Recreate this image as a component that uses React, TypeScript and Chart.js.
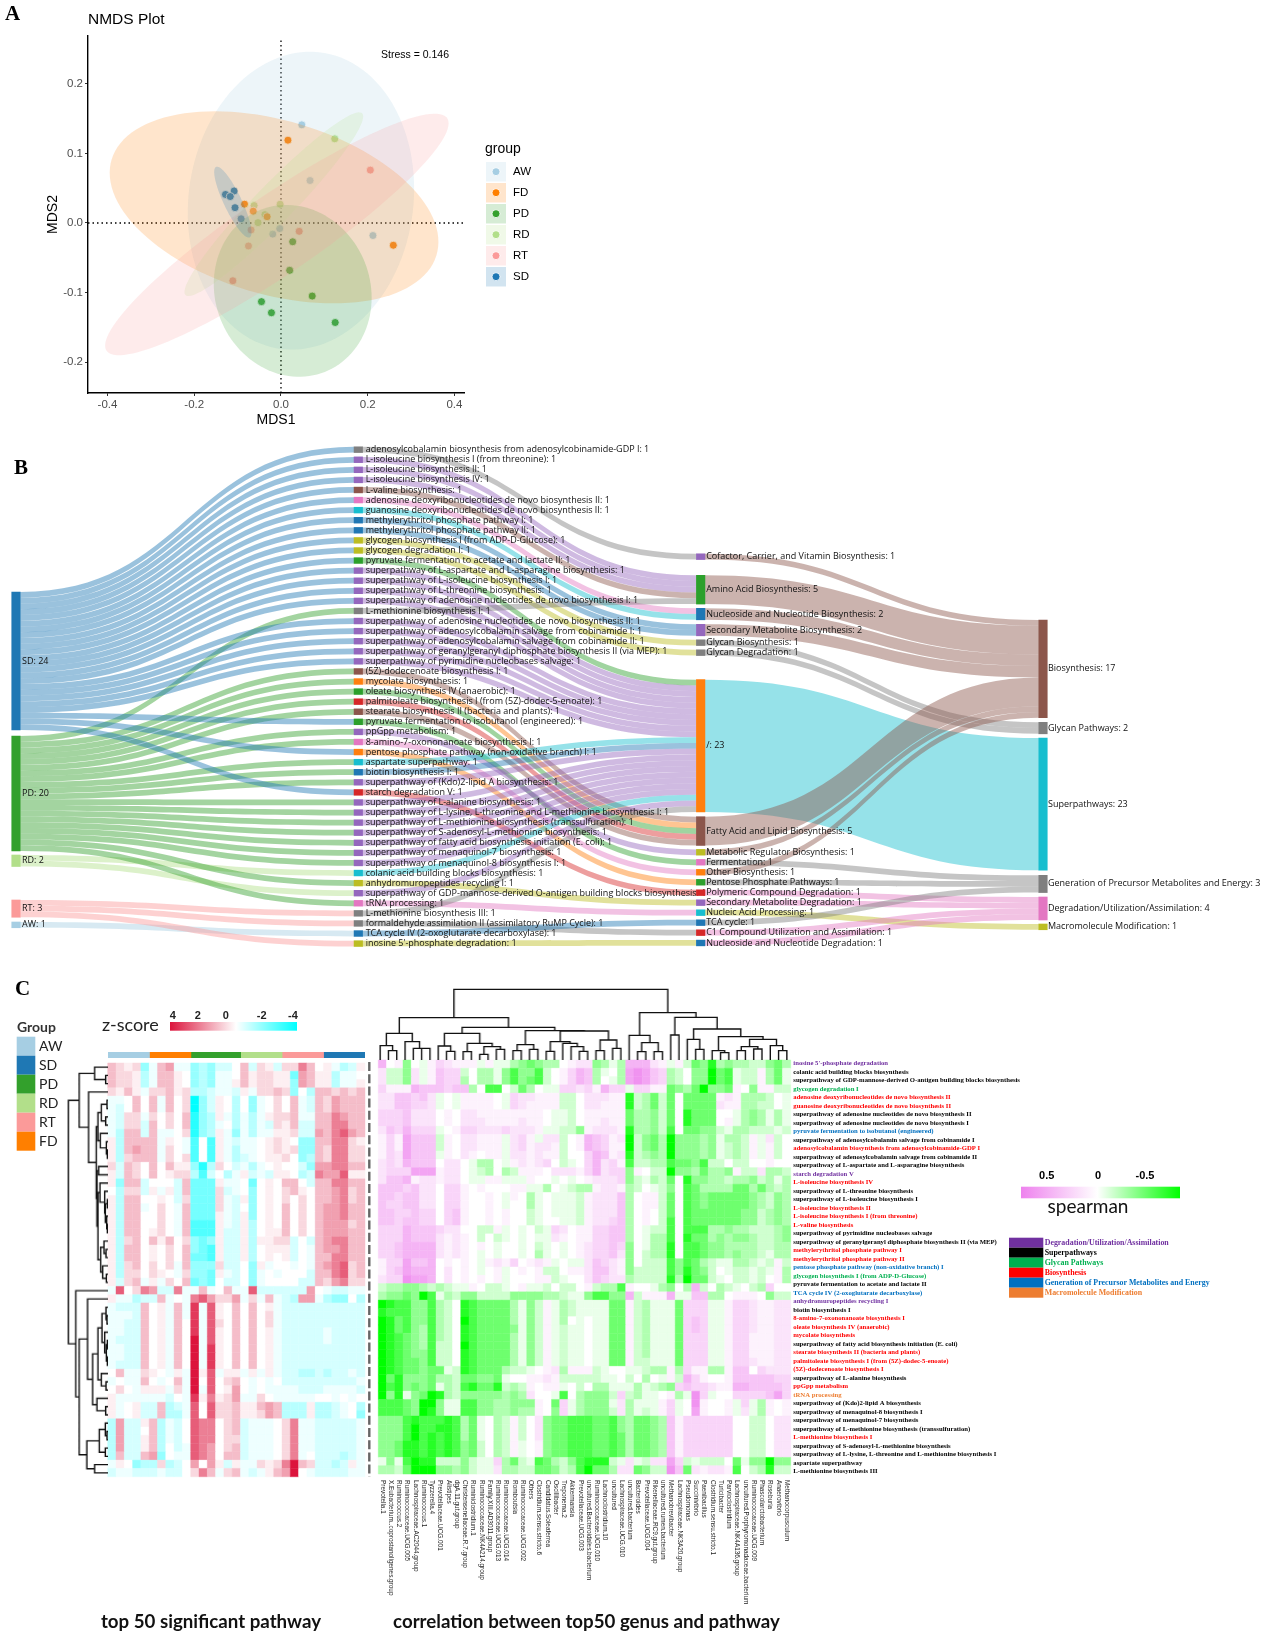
import React, { useEffect, useRef } from 'react';
import Chart from 'chart.js/auto';

// ---------- Panel A data ----------
const groupNames = ['AW', 'FD', 'PD', 'RD', 'RT', 'SD'];
const groupColors = ['#a6cee3', '#ff7f00', '#33a02c', '#b2df8a', '#fb9a99', '#1f78b4'];
const awPoints = [[0.048, 0.141], [0.067, 0.061], [0.212, -0.018], [-0.003, -0.008], [-0.019, -0.016]];
const fdPoints = [[0.016, 0.119], [0.259, -0.032], [-0.084, 0.027], [-0.064, 0.017], [-0.032, 0.009]];
const pdPoints = [[-0.045, -0.113], [-0.022, -0.129], [0.125, -0.143], [0.072, -0.105], [0.02, -0.068], [0.027, -0.027]];
const rdPoints = [[0.124, 0.121], [-0.062, 0.025], [-0.037, 0.012], [-0.053, 0.0005], [-0.002, 0.027]];
const rtPoints = [[0.206, 0.076], [0.042, -0.012], [-0.069, -0.01], [-0.075, -0.033], [-0.111, -0.083]];
const sdPoints = [[-0.108, 0.046], [-0.128, 0.041], [-0.117, 0.038], [-0.106, 0.022], [-0.092, 0.006]];
const allPoints = [awPoints, fdPoints, pdPoints, rdPoints, rtPoints, sdPoints];
// cx, cy, half width, half height, correlation
const ellipses = [
  [0.046, 0.032, 0.261, 0.214, 0.08],
  [-0.016, 0.0225, 0.379, 0.138, -0.36],
  [0.027, -0.0975, 0.182, 0.1235, -0.08],
  [-0.0165, 0.027, 0.206, 0.132, 0.955],
  [-0.0095, -0.0165, 0.396, 0.1735, 0.92],
  [-0.111, 0.03, 0.043, 0.051, -0.85],
];
const xTicksA = [-0.4, -0.2, 0, 0.2, 0.4];
const yTicksA = [-0.2, -0.1, 0, 0.1, 0.2];

// ---------- Panel B data ----------
const PAL: Record<string, string> = {
  blue: '#1f77b4', orange: '#ff7f0e', green: '#2ca02c', red: '#d62728', purple: '#9467bd',
  brown: '#8c564b', pink: '#e377c2', grey: '#7f7f7f', olive: '#bcbd22', cyan: '#17becf',
};
const sourceNames = ['SD', 'PD', 'RD', 'RT', 'AW'];
const sourceColors = ['#1f78b4', '#33a02c', '#b2df8a', '#fb9a99', '#a6cee3'];
const pathways = [
  'adenosylcobalamin biosynthesis from adenosylcobinamide-GDP I', 'L-isoleucine biosynthesis I (from threonine)',
  'L-isoleucine biosynthesis II', 'L-isoleucine biosynthesis IV', 'L-valine biosynthesis',
  'adenosine deoxyribonucleotides de novo biosynthesis II', 'guanosine deoxyribonucleotides de novo biosynthesis II',
  'methylerythritol phosphate pathway I', 'methylerythritol phosphate pathway II', 'glycogen biosynthesis I (from ADP-D-Glucose)',
  'glycogen degradation I', 'pyruvate fermentation to acetate and lactate II', 'superpathway of L-aspartate and L-asparagine biosynthesis',
  'superpathway of L-isoleucine biosynthesis I', 'superpathway of L-threonine biosynthesis', 'superpathway of adenosine nucleotides de novo biosynthesis I',
  'L-methionine biosynthesis I', 'superpathway of adenosine nucleotides de novo biosynthesis II', 'superpathway of adenosylcobalamin salvage from cobinamide I',
  'superpathway of adenosylcobalamin salvage from cobinamide II', 'superpathway of geranylgeranyl diphosphate biosynthesis II (via MEP)', 'superpathway of pyrimidine nucleobases salvage',
  '(5Z)-dodecenoate biosynthesis I', 'mycolate biosynthesis', 'oleate biosynthesis IV (anaerobic)',
  'palmitoleate biosynthesis I (from (5Z)-dodec-5-enoate)', 'stearate biosynthesis II (bacteria and plants)', 'pyruvate fermentation to isobutanol (engineered)',
  'ppGpp metabolism', '8-amino-7-oxononanoate biosynthesis I', 'pentose phosphate pathway (non-oxidative branch) I',
  'aspartate superpathway', 'biotin biosynthesis I', 'superpathway of (Kdo)2-lipid A biosynthesis', 'starch degradation V',
  'superpathway of L-alanine biosynthesis', 'superpathway of L-lysine, L-threonine and L-methionine biosynthesis I', 'superpathway of L-methionine biosynthesis (transsulfuration)',
  'superpathway of S-adenosyl-L-methionine biosynthesis', 'superpathway of fatty acid biosynthesis initiation (E. coli)', 'superpathway of menaquinol-7 biosynthesis',
  'superpathway of menaquinol-8 biosynthesis I', 'colanic acid building blocks biosynthesis', 'anhydromuropeptides recycling I',
  'superpathway of GDP-mannose-derived O-antigen building blocks biosynthesis', 'tRNA processing', 'L-methionine biosynthesis III',
  'formaldehyde assimilation II (assimilatory RuMP Cycle)', 'TCA cycle IV (2-oxoglutarate decarboxylase)', 'inosine 5\'-phosphate degradation',
];
const pathwayColors = ['grey', 'purple', 'purple', 'purple', 'brown', 'pink', 'cyan', 'blue', 'blue', 'olive', 'olive', 'green', 'purple', 'purple', 'purple', 'purple', 'grey', 'purple', 'purple', 'purple', 'purple', 'purple', 'brown', 'orange', 'green', 'red', 'brown', 'green', 'purple', 'pink', 'orange', 'cyan', 'blue', 'purple', 'red', 'purple', 'purple', 'purple', 'purple', 'purple', 'purple', 'purple', 'cyan', 'olive', 'purple', 'pink', 'grey', 'grey', 'blue', 'olive'];
const pathwaySource = [0, 0, 0, 0, 0, 0, 0, 0, 0, 0, 0, 0, 0, 0, 0, 0, 1, 0, 0, 0, 0, 0, 1, 1, 1, 1, 1, 0, 1, 1, 0, 1, 1, 1, 0, 1, 1, 1, 1, 1, 1, 1, 2, 1, 2, 1, 3, 3, 4, 3];
const classes = ['Cofactor, Carrier, and Vitamin Biosynthesis', 'Amino Acid Biosynthesis', 'Nucleoside and Nucleotide Biosynthesis', 'Secondary Metabolite Biosynthesis', 'Glycan Biosynthesis', 'Glycan Degradation', '/', 'Fatty Acid and Lipid Biosynthesis', 'Metabolic Regulator Biosynthesis', 'Fermentation', 'Other Biosynthesis', 'Pentose Phosphate Pathways', 'Polymeric Compound Degradation', 'Secondary Metabolite Degradation', 'Nucleic Acid Processing', 'TCA cycle', 'C1 Compound Utilization and Assimilation', 'Nucleoside and Nucleotide Degradation'];
const classColors = ['purple', 'green', 'blue', 'purple', 'grey', 'grey', 'orange', 'brown', 'olive', 'pink', 'orange', 'green', 'red', 'purple', 'cyan', 'blue', 'red', 'blue'];
const pathwayClass = [0, 1, 1, 1, 1, 2, 2, 3, 3, 4, 5, 6, 6, 6, 6, 6, 1, 6, 6, 6, 6, 6, 7, 7, 7, 7, 7, 9, 8, 10, 11, 6, 6, 6, 12, 6, 6, 6, 6, 6, 6, 6, 6, 13, 6, 14, 6, 16, 15, 17];
const superClasses = ['Biosynthesis', 'Glycan Pathways', 'Superpathways', 'Generation of Precursor Metabolites and Energy', 'Degradation/Utilization/Assimilation', 'Macromolecule Modification'];
const superColors = ['brown', 'grey', 'cyan', 'grey', 'pink', 'olive'];
const classSuper = [0, 0, 0, 0, 1, 1, 2, 0, 0, 3, 0, 3, 4, 4, 5, 3, 4, 4];
// layout of the columns (page pixels), kept apart from the values
const sourceTops = [592, 736, 855, 900, 922];
const classTops = [553.8, 575.3, 608.3, 624.3, 639.8, 649.8, 679.7, 816.7, 849.4, 859.4, 869.4, 879.4, 889.8, 899.8, 909.8, 919.8, 929.8, 940.1];
const superTops = [620, 722.3, 738, 875.3, 897, 924];
const labelGap = [6, 7.3, 5.5, 5];
const UNIT = 5.75;
const pathTop = (i: number) => 446.8 + i * 10.08;

const cnt = (arr: number[], v: number) => arr.filter((a) => a === v).length;
type Node = { lvl: number; top: number; h: number; color: string; label: string };
const nodes: Node[] = [];
const links: { l: number; y0: number; y1: number; h: number; color: string }[] = [];
sourceNames.forEach((n, i) => { const c = cnt(pathwaySource, i); nodes.push({ lvl: 0, top: sourceTops[i], h: c * UNIT, color: sourceColors[i], label: `${n}: ${c}` }); });
pathways.forEach((n, i) => nodes.push({ lvl: 1, top: pathTop(i), h: UNIT, color: PAL[pathwayColors[i]], label: `${n}: 1` }));
classes.forEach((n, i) => { const c = cnt(pathwayClass, i); nodes.push({ lvl: 2, top: classTops[i], h: c * UNIT, color: PAL[classColors[i]], label: `${n}: ${c}` }); });
superClasses.forEach((n, i) => { const c = classSuper.reduce((s, g, k) => s + (g === i ? cnt(pathwayClass, k) : 0), 0); nodes.push({ lvl: 3, top: superTops[i], h: c * UNIT, color: PAL[superColors[i]], label: `${n}: ${c}` }); });
{
  const so = sourceTops.map(() => 0), co = classTops.map(() => 0), go = superTops.map(() => 0);
  pathways.forEach((_, i) => {
    const s = pathwaySource[i];
    links.push({ l: 0, y0: sourceTops[s] + so[s] * UNIT, y1: pathTop(i), h: UNIT, color: sourceColors[s] });
    so[s]++;
  });
  pathways.forEach((_, i) => {
    const c = pathwayClass[i];
    links.push({ l: 1, y0: pathTop(i), y1: classTops[c] + co[c] * UNIT, h: UNIT, color: PAL[pathwayColors[i]] });
    co[c]++;
  });
  classes.forEach((_, c) => {
    const g = classSuper[c], n = co[c];
    links.push({ l: 2, y0: classTops[c], y1: superTops[g] + go[g] * UNIT, h: n * UNIT, color: PAL[superColors[g]] });
    go[g] += n;
  });
}

// ---------- Panel C data ----------
// z-score cells: '.'=0, 1..8 = +0.5..+4, a..h = -0.5..-4
const zRows = [
  '3212d a34aa dcdbb. 3b21b 2253. 1acb1', '3221c a331. dcdaa. 31221 1e431 1caa.', '3221c a331. dcdaa1 31221 1d431 1caa1',
  '2131a 22312 ccbaab 1a223 2d.c3 32323', 'aa.3. 3a3.2 hdb1.c .da.2 .3ab3 24333', 'ab.3. 3a3.2 hdb1.c .da.2 .3ab3 24333',
  'ab22a 2.2.3 gdc1ac aca12 23aa3 35433', 'ab22b 3.2.3 gdca.c acab2 13bb3 35533', 'ac33b 3aa.2 gdc1ad acaa1 12bb4 35643',
  '1c333 3a1.a f.f1ab aa.12 1.dd3 35521', '1c343 3a2.a f.f1ac aa.12 12dd3 25522', '1c233 3a2.2 f.f1ac ba.11 2.dc3 25522',
  '2b32. 3.311 dgc2.b aca.1 ..bd4 45533', '1b32. 3.122 cfb.ca 1bab1 1.cb5 44611', '1d33b ...b3 eee1aa .e.1. 33.b3 35533',
  '.c22b 1a1b3 eee2ba .d.1. 231.3 34523', '1c33. .1.b2 eee2ab 1d.1. 2.2.3 34523', '1c33a .2.a3 eee2ab .d.1. 3.2.3 44533',
  '1c33. .2.a3 eee1ab 1d.1. 3.2.3 44533', '1c33. .2.a3 fff1ab 1c.1. 3.2.3 44423', '1c33. 12.a3 fff1bb 1c.11 3.2.3 44433',
  '1c23. 313.2 ded1bb 1c112 2b.b3 45533', '1c33. 1.2.3 def1bb 1c.11 1b.a3 44533', '1c33. 1.2.3 eef1bb 1c.1. 1b.a3 35533',
  '1c23. 2.2a3 ddd2bb .d1a. .a.a3 45623', '1c22. 21.a2 dde1ab .da.a ...b3 35623', '1b23a 1a2.3 ede.bb .da.. ..bb3 24522',
  'a6.25 4bb5a a3a.3a a6bbb bbb4. abbaa', '1aacb b3a.a 564224 a2a3a bc44a cdd.c', 'abbb3 .1a3a 7a61.3 .3.1a bbbbb bbbbb',
  'aaab3 .1a3a 7a61.3 .3.2a bbbbb bbbbb', 'aabb3 .1a3. 7a62.3 .3.2a bbbbb bbbbb', 'aabb3 .1a3. 7a61.3 .3.1a bbbbb abbbb',
  'abbb3 .1a3. 8a61.3 .3.1a bbbbb abbbb', 'aabb3 .1a3. 8a71.3 .3.1a bbbbb bbbbb', 'aabb3 .1a3. 8a71.3 .3.1a bbbbb bbbbb',
  'abbb3 .1a3. 8a71.3 .3.1a bbbbb bbbbb', '.3aa2 1.a1a 816a11 a1a1a bbccb cbbab', 'a.aa3 .a.3a 8.6.23 .a.a. bbbbb bbbba',
  '.2.a1 11a2a 8a6.14 .a.aa aabbb aaaab', '1aaaa aab.a 715124 aa2.a aaaa. .a.a.', '1a.1b b3cba 6.6223 11343 ccc1c cba.c',
  '1a.1b b3cca 6.6223 11243 ccc1c cba.d', 'c4bb1 3cab. 655.23 baaa. 25aab bbbba', 'c4bb. 3cab. 655.23 baaa. 25aab bbbba',
  'c4bb1 3cab. 655.22 baaa. 25aab bbbba', 'c4bb1 3c.ba 654.23 baaa. 25aab bbbba', 'c3bb3 4d.aa 654.33 baaa. 25a.b bbcba',
  'a1.dc c2cb. 4.41b1 aa212 5832b bcb1a', 'baabb babb. 253a23 aba13 48.ab bbbaa',
];
// spearman cells: '.'=0, 1..8 = +0.0625..+0.5, a..h = -0.0625..-0.5
const corrRows = [
  '5.1d. a1321 11a1a acded cc.12 2dcac 55521 a1bed gcdcc bbdec', '2bbd2 a1433 b.cca dfddf b.135 4ca.c 67643 cb.dd hefab b1cea',
  '2bbd2 a1433 c.cca dfdef b.135 4c.ac 67643 cb.dd hefab b1cea', '31115 44434 4c.ff .bec. aa332 31533 a3311 edceh dde1. d11bb',
  '22443 42a.a 1111. a3221 11bb. 22211 gbceb e.eee e121c ccb.a', '22443 32a.a 1111. a3211 11bb. 22111 gbceb e.eee e211c cbb.a',
  '33342 22.1. 22111 11111 .aab. 11111 eccdb e.gee e..ac dcaca', '33342 22.1. 22211 11211 .aab. 11211 eccdb e.gee e.1ac dcaca',
  '24353 33a.1 33222 32221 aabbd 12221 gccdb f.eed dbacc bbbab', '13164 44b1. 22111 a231a 22b.1 54312 hbdec hdddc daccb 1a2b.',
  '13164 44b1. 22111 a2312 21b.1 54311 hbdec hdddc dabcb 1a1b.', '13264 44a1. 21.11 a2212 11b.. 35412 gbcdc hdddc dabcb 1a1b.',
  '23254 44.22 .acc. a1212 3.ba. 35231 fbbcc feedf bb.bb ..1..', '23336 66122 .abc. cb111 .2221 35233 d1.bb hddce ccd1b b2ccb',
  '24451 22122 .aa11 aaa1. .a.a. 12223 dbacb e.gdd ccbcc dbcac', '44434 22.33 1.1.. .11aa c.abc c1221 cb.ab d.fec cccee cecbc',
  '44344 22.33 1..1. a1.ca .aaab 12224 c.11b e.fed eeeee dcbdc', '43344 22.33 1..1. a..ca .aaab 12224 c.11b e.fed eeeee dcbdc',
  '44334 33.34 1..1. 1..ba .aaab 12224 c.1.b e.fee eeeed dbcdc', '44344 33.34 1..1. 1..ba ..aab 12234 c.1.b f.fee eeeed dbcdc',
  '33354 44322 ..bb1 a.a.b a32.1 13344 c.abb f.fff ccdcc bbbcd', '33354 44212 1.b.b a.a.a a21.1 13344 c.acc f.gee cdcdd cbbcd',
  '33455 55212 1.1.a ..a.b a.a.1 23343 d.acc g.ffe ddccc cbbcc', '33455 55212 1.a.a ..a.c a.a.1 23342 d.bcc g.ffe ddcdc cbacc',
  '13364 45.1. 1.a12 13.12 1a.aa 24321 d.bbb fdfec baacc bab1b', '13465 55.2. 1.a.1 a.1.1 bb.11 24421 dbbbb fdged b.abb aba1c',
  '23376 65.2. 1.1.1 a...1 1ba.. 24322 cbbbb gchee ba.bb ab.1c', 'bccdd cbcba a1.bb a.1aa b.bb. 1bccf 1..ac d.c5b .cba. bc3..',
  'cdded hfacb ddbbb bdddd ccbaa dffdd 5b111 5aa44 cc.11 1.dbb', 'hgffd dfcb. gfeee ecadb 1acba aaaee 1bcaa ae333 aa133 21122',
  'gfffd dfcb. gfeee ecadb 1acba aaaee 1bcaa ae333 aa133 21122', 'hgefd dfcb. hfeee ecadb 1ac.a .aaee 1bcaa ae343 aa133 21122',
  'hgefd cfcb. gfeee edadb 1abaa .aaee 1bcaa ae343 aa133 21122', 'hgfed cfcb. gfeee ecadb 1abaa .aaee 1bcaa ae333 aa133 11122',
  'hgfed cfbb. hfeee ecadb 1abaa .aaee 1bcaa ae333 aa133 11122', 'hgfed dfbb. gfeee ecadb 1abaa .aaee 1bcaa ae333 aa133 11122',
  'hgfee dfbb. gfeee ecadb 1abaa .aaee 1bbaa ae333 aa133 21122', 'hgfee deeab gfeee cbba. 12c11 1ba.. aabcc 1c311 cc144 .3222',
  'hegdd deccb eedde a..11 21bbb bbaa. b.c.a 1b531 ..144 44433', 'hfgde deacb fgeeg bcb1. 11a.b .ccaa acabc d3433 21155 44443',
  'hdgad ehgcb ddddd cdc2. .af.c dddb3 bcaa. 1ca73 a..33 33463', 'fffed hhdaa ffddc cddd1 .e3ac ddda2 caaa1 3a.71 ..1a3 ac1.1',
  'fffed hgdaa ffddc cdcc1 .d3ac dddb2 caba1 3a.61 ..1a2 ac1.1', 'dddfg fffgf cea.c b1b.2 deeff feefd ceedc 41333 333.. bb.22',
  'dddfh ffggf cea.c b1b.2 deeff feefd ceedc 41333 333.. bb.22', 'dddfh fgfgf cea.c b1b.2 deeff feefe ceedc 41333 333.. bb.22',
  'ddegg fgfgf deb.c b1a.1 deeff feefe ceedc 41333 333.. bb.22', 'ddegg fgfgf deb.c b1a.1 deeff feefe ceedc 41333 333.. bb.22',
  'adafh ggbbb dbaa3 cebaf ecbdf gggba 2ab22 63bab bb.ea ddhdd', 'ccbeh hhddc dbaa2 ccbbe edbcf heec2 2edbb 74e21 221f. bcgbb',
];
const genera = ['Prevotella.1', 'X.Eubacterium..coprostanoligenes.group', 'Ruminococcus.2', 'Ruminococcaceae.UCG.005', 'Lachnospiraceae.AC2044.group', 'Ruminococcus.1', 'Tyzzerella.4', 'Prevotellaceae.UCG.001', 'Alistipes', 'dgA.11.gut.group', 'Christensenellaceae.R.7.group', 'Ruminiclostridium.1', 'Ruminococcaceae.NK4A214.group', 'Family.XIII.AD3011.group', 'Ruminococcaceae.UCG.013', 'Ruminococcaceae.UCG.014', 'Romboutsia', 'Ruminococcaceae.UCG.002', 'Others', 'Clostridium.sensu.stricto.6', 'Candidatus.Soleaferrea', 'Oscillibacter', 'Treponema.2', 'Akkermansia', 'Prevotellaceae.UCG.003', 'uncultured.Bacteroidales.bacterium', 'Ruminococcaceae.UCG.010', 'Lachnoclostridium.10', 'uncultured', 'Lachnospiraceae.UCG.010', 'uncultured.bacterium', 'Bacteroides', 'Prevotellaceae.UCG.004', 'Rikenellaceae.RC9.gut.group', 'uncultured.rumen.bacterium', 'Methanobrevibacter', 'Lachnospiraceae.NK3A20.group', 'Pseudomonas', 'Succinivibrio', 'Paenibacillus', 'Clostridium.sensu.stricto.1', 'Turicibacter', 'Parvioclostridium', 'Lachnospiraceae.NK4A136.group', 'uncultured.Porphyromonadaceae.bacterium', 'Ruminococcaceae.UCG.009', 'Phascolarctobacterium', 'Roseburia', 'Anaerovibrio', 'Methanocorpusculum'];
const catNames = ['Degradation/Utilization/Assimilation', 'Superpathways', 'Glycan Pathways', 'Biosynthesis', 'Generation of Precursor Metabolites and Energy', 'Macromolecule Modification'];
const catColors = ['#7030a0', '#000000', '#00b050', '#ff0000', '#0070c0', '#ed7d31'];
const rowLabels: [string, number][] = [
  ["inosine 5'-phosphate degradation", 0], ['colanic acid building blocks biosynthesis', 1], ['superpathway of GDP-mannose-derived O-antigen building blocks biosynthesis', 1],
  ['glycogen degradation I', 2], ['adenosine deoxyribonucleotides de novo biosynthesis II', 3], ['guanosine deoxyribonucleotides de novo biosynthesis II', 3],
  ['superpathway of adenosine nucleotides de novo biosynthesis II', 1], ['superpathway of adenosine nucleotides de novo biosynthesis I', 1], ['pyruvate fermentation to isobutanol (engineered)', 4],
  ['superpathway of adenosylcobalamin salvage from cobinamide I', 1], ['adenosylcobalamin biosynthesis from adenosylcobinamide-GDP I', 3], ['superpathway of adenosylcobalamin salvage from cobinamide II', 1],
  ['superpathway of L-aspartate and L-asparagine biosynthesis', 1], ['starch degradation V', 0], ['L-isoleucine biosynthesis IV', 3], ['superpathway of L-threonine biosynthesis', 1],
  ['superpathway of L-isoleucine biosynthesis I', 1], ['L-isoleucine biosynthesis II', 3], ['L-isoleucine biosynthesis I (from threonine)', 3], ['L-valine biosynthesis', 3],
  ['superpathway of pyrimidine nucleobases salvage', 1], ['superpathway of geranylgeranyl diphosphate biosynthesis II (via MEP)', 1], ['methylerythritol phosphate pathway I', 3],
  ['methylerythritol phosphate pathway II', 3], ['pentose phosphate pathway (non-oxidative branch) I', 4], ['glycogen biosynthesis I (from ADP-D-Glucose)', 2],
  ['pyruvate fermentation to acetate and lactate II', 1], ['TCA cycle IV (2-oxoglutarate decarboxylase)', 4], ['anhydromuropeptides recycling I', 0], ['biotin biosynthesis I', 1],
  ['8-amino-7-oxononanoate biosynthesis I', 3], ['oleate biosynthesis IV (anaerobic)', 3], ['mycolate biosynthesis', 3], ['superpathway of fatty acid biosynthesis initiation (E. coli)', 1],
  ['stearate biosynthesis II (bacteria and plants)', 3], ['palmitoleate biosynthesis I (from (5Z)-dodec-5-enoate)', 3], ['(5Z)-dodecenoate biosynthesis I', 3], ['superpathway of L-alanine biosynthesis', 1],
  ['ppGpp metabolism', 3], ['tRNA processing', 5], ['superpathway of (Kdo)2-lipid A biosynthesis', 1], ['superpathway of menaquinol-8 biosynthesis I', 1], ['superpathway of menaquinol-7 biosynthesis', 1],
  ['superpathway of L-methionine biosynthesis (transsulfuration)', 1], ['L-methionine biosynthesis I', 3], ['superpathway of S-adenosyl-L-methionine biosynthesis', 1],
  ['superpathway of L-lysine, L-threonine and L-methionine biosynthesis I', 1], ['aspartate superpathway', 1], ['L-methionine biosynthesis III', 1],
];
const annotGroups = ['AW', 'FD', 'PD', 'RD', 'RT', 'SD'];
const annotCounts = [5, 5, 6, 5, 5, 5];
const legendOrder = ['AW', 'SD', 'PD', 'RD', 'RT', 'FD'];
// dendrograms: [height, child, child], 0 = one leaf
type Tree = 0 | [number, Tree, Tree];
const rowTree: Tree = [118,
  [86, [40, 0, [7, 0, 0]],
    [58, 0, [35,
      [30, [20, [3, 0, 0], [7, 0, 0]], [23, 0, [5, 0, [2, 0, 0]]]],
      [33, [28, 0, 0], [30,
        [24, 0, [10, 0, [8, [2, 0, 0], [4, 0, [2, 0, 0]]]]],
        [22, [12, 0, [6, 0, 0]], [16, 0, [5, 0, 0]]]]]]]],
  [96, 0, [86,
    [61, 0, [46,
      [30, [18, [6, 0, [3, 0, 0]], [10, 0, [5, [2, 0, 0], [2, 0, 0]]]], [20, 0, [6, 0, 0]]],
      [33, 0, [7, 0, 0]]]],
    [63, [26, [8, 0, [3, 0, 0]], [8, 0, 0]], [40, 0, 0]]]]];
const colTree: Tree = [212,
  [127,
    [80, [43, 0, [28, 0, 0]], [55, 0, [35, 0, [35, 0, 0]]]],
    [98,
      [80, [42, 0, [26, 0, 0]], [50, [25, 0, 0], [40, [17, 0, 0], [32, 0, 0]]]],
      [88, [46, [28, 0, 0], [32, 0, 0]],
        [87, [55, [26, 0, 0], [50, 0, [40, 0, [26, 0, 0]]]], [60, [28, 0, 0], [35, 0, 0]]]]]],
  [142,
    [74, 0, [52, [25, 0, 0], [25, 0, 0]]],
    [128, [75, 0, 0],
      [93, [62, 0, [32, 0, 0]],
        [70, [28, 0, [22, 0, 0]],
          [62, [40, [28, 0, 0], [33, 0, 0]], [43, 0, [28, 0, 0]]]]]]]];

// ---------- helpers ----------
const cellVal = (c: string) => {
  if (c >= '1' && c <= '8') return +c;
  if (c >= 'a' && c <= 'h') return -(c.charCodeAt(0) - 96);
  return 0;
};
const mix = (a: number[], t: number) => `rgb(${a.map((v) => Math.round(255 + (v - 255) * t)).join(',')})`;
const zColor = (v: number) => (v >= 0 ? mix([220, 20, 60], Math.pow(v / 8, 1.3)) : mix([0, 255, 255], Math.pow(-v / 8, 1.3)));
const corrColor = (v: number) => (v >= 0 ? mix([238, 130, 238], Math.pow(v / 8, 1.1)) : mix([0, 255, 0], Math.pow(-v / 8, 1.2)));
const cells = (rows: string[], n: number) => rows.flatMap((r, y) => {
  const s = r.replace(/ /g, '').padEnd(n, '.');
  return Array.from(s).slice(0, n).map((c, x) => ({ x, y, v: cellVal(c) }));
});
const treeSegs = (t: Tree, swap: boolean) => {
  const out: { x: number; y: number }[] = [];
  let leaf = 0;
  const add = (a: number, b: number) => out.push(swap ? { x: b, y: a } : { x: a, y: b });
  const walk = (n: Tree): { p: number; h: number } => {
    if (n === 0) { leaf++; return { p: leaf - 0.5, h: 0 }; }
    const l = walk(n[1]), r = walk(n[2]);
    add(l.p, l.h); add(l.p, n[0]); add(r.p, n[0]); add(r.p, r.h);
    out.push({ x: NaN, y: NaN });
    return { p: (l.p + r.p) / 2, h: n[0] };
  };
  walk(t);
  return out;
};
const txt = (ctx: CanvasRenderingContext2D, s: string, x: number, y: number, font: string, color = '#000', align: CanvasTextAlign = 'left') => {
  ctx.save(); ctx.font = font; ctx.fillStyle = color; ctx.textAlign = align; ctx.textBaseline = 'middle'; ctx.fillText(s, x, y); ctx.restore();
};
const rgba = (hex: string, a: number) => `rgba(${parseInt(hex.slice(1, 3), 16)},${parseInt(hex.slice(3, 5), 16)},${parseInt(hex.slice(5, 7), 16)},${a})`;
const SANS = '"Liberation Sans"';
const SERIF = '"Liberation Serif"';
const LATO = 'Lato';
const SEGOE = '"Open Sans"';
const base: any = { responsive: false, animation: false, devicePixelRatio: 1, events: [], plugins: { legend: { display: false }, tooltip: { enabled: false } } };

function Cv({ left, top, w, h, make }: { left: number; top: number; w: number; h: number; make: (c: HTMLCanvasElement) => any }) {
  const ref = useRef<HTMLCanvasElement>(null);
  useEffect(() => {
    const ch = new Chart(ref.current!, make(ref.current!));
    return () => ch.destroy();
  }, []);
  return <canvas ref={ref} width={w} height={h} style={{ position: 'absolute', left, top, width: w, height: h }} />;
}

// ---------- Panel A ----------
const nmdsConfig = () => ({
  type: 'scatter',
  data: {
    datasets: [
      ...allPoints.map((pts, i) => ({
        label: groupNames[i], data: pts.map(([x, y]) => ({ x, y })),
        pointRadius: 4, pointBackgroundColor: groupColors[i], pointBorderColor: '#fff', pointBorderWidth: 0.8,
      })),
      { data: [{ x: -0.445, y: 0 }, { x: 0.422, y: 0 }], showLine: true, pointRadius: 0, borderColor: '#000', borderWidth: 1.3, borderDash: [1.5, 3] },
      { data: [{ x: 0, y: -0.2443 }, { x: 0, y: 0.265 }], showLine: true, pointRadius: 0, borderColor: '#000', borderWidth: 1.3, borderDash: [1.5, 3] },
    ],
  },
  options: {
    ...base,
    layout: { padding: { top: 36, right: 176, left: 0, bottom: 11.5 } },
    scales: {
      x: {
        type: 'linear', min: -0.445, max: 0.422,
        afterBuildTicks: (s: any) => { s.ticks = xTicksA.map((value) => ({ value })); },
        afterFit: (s: any) => { s.height = 35.5; },
        ticks: { color: '#4d4d4d', font: { family: SANS, size: 11.5 }, padding: 2, maxRotation: 0, callback: (v: number) => v.toFixed(1) },
        grid: { drawOnChartArea: false, drawTicks: true, tickLength: 3, tickColor: '#333' },
        border: { color: '#000', width: 1.4 },
        title: { display: true, text: 'MDS1', color: '#000', font: { family: SANS, size: 14 }, padding: { top: 0, bottom: 0 } },
      },
      y: {
        type: 'linear', min: -0.2443, max: 0.2687,
        afterBuildTicks: (s: any) => { s.ticks = yTicksA.map((value) => ({ value })); },
        afterFit: (s: any) => { s.width = 88; },
        ticks: { color: '#4d4d4d', font: { family: SANS, size: 11.5 }, padding: 2, callback: (v: number) => v.toFixed(1) },
        grid: { drawOnChartArea: false, drawTicks: true, tickLength: 3, tickColor: '#333' },
        border: { color: '#000', width: 1.4 },
        title: { display: true, text: 'MDS2', color: '#000', font: { family: SANS, size: 14 }, padding: { top: 45, bottom: 0 } },
      },
    },
  },
  plugins: [{
    id: 'ellipses',
    afterDatasetsDraw(chart: any) {
      const { ctx, scales: { x, y } } = chart;
      ellipses.forEach(([cx, cy, rx, ry, rho], i) => {
        const phi = Math.acos(rho);
        ctx.beginPath();
        for (let k = 0; k <= 120; k++) {
          const t = (k / 120) * Math.PI * 2;
          const px = x.getPixelForValue(cx + rx * Math.cos(t));
          const py = y.getPixelForValue(cy + ry * Math.cos(t - phi));
          if (k) ctx.lineTo(px, py); else ctx.moveTo(px, py);
        }
        ctx.closePath();
        ctx.fillStyle = rgba(groupColors[i], 0.2);
        ctx.fill();
      });
      txt(ctx, 'A', 5, 15, `bold 21px ${SERIF}`);
      txt(ctx, 'NMDS Plot', 88, 20, `15.5px ${SANS}`);
      txt(ctx, 'Stress = 0.146', 415, 55, `10.5px ${SANS}`, '#000', 'center');
      txt(ctx, 'group', 485, 149, `14px ${SANS}`);
      groupNames.forEach((g, i) => {
        const ky = 162 + i * 21;
        ctx.fillStyle = rgba(groupColors[i], 0.2);
        ctx.fillRect(486, ky, 20, 19.5);
        ctx.beginPath(); ctx.arc(496, ky + 9.7, 4, 0, Math.PI * 2);
        ctx.fillStyle = groupColors[i]; ctx.fill();
        ctx.strokeStyle = '#fff'; ctx.lineWidth = 0.8; ctx.stroke();
        txt(ctx, g, 513, ky + 10, `11.5px ${SANS}`);
      });
    },
  }],
});

// ---------- Panel B ----------
const sankeyConfig = () => ({
  type: 'bar',
  data: {
    datasets: [{
      data: nodes.map((n) => ({ x: n.lvl, y: [n.top, n.top + n.h] })),
      backgroundColor: nodes.map((n) => n.color),
      barThickness: 8.5,
      clip: false,
    }],
  },
  options: {
    ...base,
    layout: { padding: { left: 16, right: 220, top: 0, bottom: 0 } },
    scales: {
      x: { type: 'linear', min: 0, max: 3, display: false, offset: false },
      y: { type: 'linear', min: 440, max: 960, reverse: true, display: false },
    },
  },
  plugins: [{
    id: 'flows',
    beforeDatasetsDraw(chart: any) {
      const { ctx, scales: { x, y } } = chart;
      links.forEach((k) => {
        const x0 = x.getPixelForValue(k.l) + 4.25, x1 = x.getPixelForValue(k.l + 1) - 4.25, xm = (x0 + x1) / 2;
        const a = y.getPixelForValue(k.y0), b = y.getPixelForValue(k.y1), d = k.h;
        ctx.beginPath();
        ctx.moveTo(x0, a);
        ctx.bezierCurveTo(xm, a, xm, b, x1, b);
        ctx.lineTo(x1, b + d);
        ctx.bezierCurveTo(xm, b + d, xm, a + d, x0, a + d);
        ctx.closePath();
        ctx.fillStyle = rgba(k.color, 0.45);
        ctx.fill();
      });
      nodes.forEach((n) => {
        txt(ctx, n.label, x.getPixelForValue(n.lvl) + labelGap[n.lvl], y.getPixelForValue(n.top + n.h / 2), `9px ${SEGOE}`, '#111');
      });
      txt(ctx, 'B', 14, 29, `bold 21px ${SERIF}`);
    },
  }],
});

// ---------- Panel C ----------
const heatScales = (n: number) => ({
  x: { type: 'linear', min: -0.5, max: n - 0.5, display: false },
  y: { type: 'linear', min: -0.5, max: 49.5, reverse: true, display: false },
});
const cellDs = (data: any[], color: (v: number) => string) => ({
  data, pointStyle: 'rect', pointRadius: 5.9, clip: false, pointBorderWidth: 0.4,
  pointBackgroundColor: (c: any) => color(c.raw.v), pointBorderColor: (c: any) => color(c.raw.v),
});
const zConfig = () => ({
  type: 'scatter',
  data: { datasets: [cellDs(cells(zRows, 31), zColor)] },
  options: { ...base, layout: { padding: { left: 107.7, right: 7, top: 83, bottom: 160.3 } }, scales: heatScales(31) },
  plugins: [{
    id: 'zDeco',
    afterDraw(chart: any) {
      const { ctx } = chart;
      ctx.save(); ctx.translate(0, -980);
      txt(ctx, 'C', 15, 990, `bold 21px ${SERIF}`);
      txt(ctx, 'Group', 17, 1027, `bold 14px ${LATO}`, '#333');
      legendOrder.forEach((g, i) => {
        ctx.fillStyle = groupColors[groupNames.indexOf(g)];
        ctx.fillRect(16.7, 1036.7 + i * 19, 18.6, 19);
        txt(ctx, g, 39, 1046 + i * 19, `14px ${LATO}`, '#222');
      });
      txt(ctx, 'z-score', 102, 1025.5, `18px ${LATO}`, '#222');
      const g = ctx.createLinearGradient(170, 0, 297, 0);
      g.addColorStop(0, 'rgb(220,20,60)'); g.addColorStop(0.52, '#fff'); g.addColorStop(1, 'rgb(0,255,255)');
      ctx.fillStyle = g; ctx.fillRect(170, 1022, 127, 8.7);
      [['4', 172.7], ['2', 197.7], ['0', 225.7], ['-2', 261.7], ['-4', 293]].forEach(([s, px]: any) => txt(ctx, s, px, 1015.7, `bold 11px ${SANS}`, '#222', 'center'));
      ctx.strokeStyle = '#666'; ctx.lineWidth = 2.4; ctx.setLineDash([9, 3.2]);
      ctx.beginPath(); ctx.moveTo(369.3, 1062); ctx.lineTo(369.3, 1477); ctx.stroke(); ctx.setLineDash([]);
      txt(ctx, 'top 50 significant pathway', 211, 1622, `bold 18.7px ${LATO}`, '#111', 'center');
      ctx.restore();
    },
  }],
});
const corrConfig = () => ({
  type: 'scatter',
  data: { datasets: [cellDs(cells(corrRows, 50), corrColor)] },
  options: { ...base, layout: { padding: { left: 4.3, right: 472.3, top: 80, bottom: 163 } }, scales: heatScales(50) },
  plugins: [{
    id: 'corrDeco',
    afterDraw(chart: any) {
      const { ctx, scales: { x } } = chart;
      ctx.save();
      genera.forEach((g, i) => {
        ctx.save();
        ctx.translate(x.getPixelForValue(i), 500);
        ctx.rotate(Math.PI / 2);
        txt(ctx, g, 0, 0, `6.4px ${SANS}`, '#222');
        ctx.restore();
      });
      ctx.translate(-372, -980);
      rowLabels.forEach(([s, c], i) => txt(ctx, s, 793.3, 1063.3 + i * 8.5, `bold 6.7px ${SERIF}`, catColors[c]));
      [['0.5', 1046.7], ['0', 1098], ['-0.5', 1145]].forEach(([s, px]: any) => txt(ctx, s, px, 1176, `bold 11px ${SANS}`, '#000', 'center'));
      const g = ctx.createLinearGradient(1021, 0, 1180, 0);
      g.addColorStop(0, 'rgb(238,130,238)'); g.addColorStop(0.48, '#fff'); g.addColorStop(1, 'rgb(0,255,0)');
      ctx.fillStyle = g; ctx.fillRect(1021, 1186.7, 159, 11.6);
      txt(ctx, 'spearman', 1088, 1207, `19px ${LATO}`, '#111', 'center');
      catNames.forEach((n, i) => {
        ctx.fillStyle = catColors[i];
        ctx.fillRect(1009, 1237.7 + i * 10, 34.3, 10);
        txt(ctx, n, 1044.7, 1242.7 + i * 10, `bold 7.9px ${SERIF}`, catColors[i]);
      });
      txt(ctx, 'correlation between top50 genus and pathway', 586.5, 1622, `bold 18.7px ${LATO}`, '#111', 'center');
      ctx.restore();
    },
  }],
});
const treeLine = (data: any[]) => ({ data, showLine: true, pointRadius: 0, borderColor: '#111', borderWidth: 1.4, clip: false, spanGaps: false, tension: 0 });
const rowDendro = () => ({
  type: 'scatter',
  data: { datasets: [treeLine(treeSegs(rowTree, true))] },
  options: { ...base, scales: { x: { type: 'linear', min: 0, max: 143, reverse: true, display: false }, y: { type: 'linear', min: 0, max: 50, reverse: true, display: false } } },
});
const colDendro = () => ({
  type: 'scatter',
  data: { datasets: [treeLine(treeSegs(colTree, false))] },
  options: { ...base, scales: { x: { type: 'linear', min: 0, max: 50, display: false }, y: { type: 'linear', min: 0, max: 240, display: false } } },
});
const annotConfig = () => ({
  type: 'bar',
  data: {
    labels: ['Group'],
    datasets: annotGroups.map((g, i) => ({ label: g, data: [annotCounts[i]], backgroundColor: groupColors[groupNames.indexOf(g)], categoryPercentage: 1, barPercentage: 1 })),
  },
  options: { ...base, indexAxis: 'y', scales: { x: { stacked: true, min: 0, max: 31, display: false }, y: { stacked: true, display: false } } },
});

export default function App() {
  return (
    <div style={{ position: 'absolute', left: 0, top: 0, width: 1263, height: 1637, background: '#fff', overflow: 'hidden' }}>
      <Cv left={0} top={0} w={640} h={440} make={nmdsConfig} />
      <Cv left={0} top={440} w={1263} h={520} make={sankeyConfig} />
      <Cv left={0} top={980} w={372} h={657} make={zConfig} />
      <Cv left={372} top={980} w={891} h={657} make={corrConfig} />
      <Cv left={60} top={1063} w={47.7} h={413.7} make={rowDendro} />
      <Cv left={376.3} top={980} w={414.4} h={80} make={colDendro} />
      <Cv left={107.7} top={1051.7} w={257.3} h={6.6} make={annotConfig} />
    </div>
  );
}
